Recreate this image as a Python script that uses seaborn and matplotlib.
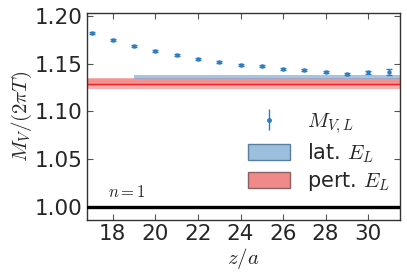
import numpy as np
import pandas as pd
import matplotlib
matplotlib.use("Agg")
import matplotlib.pyplot as plt
import seaborn as sns
from matplotlib.patches import Patch

# data
z = [17, 18, 19, 20, 21, 22, 23, 24, 25, 26, 27, 28, 29, 30, 31]
M = [1.1824, 1.1751, 1.1688, 1.1635, 1.1593, 1.1551, 1.1524, 1.1485,
     1.1475, 1.1443, 1.1436, 1.1415, 1.1394, 1.1412, 1.1418]
M_err = [0.0007, 0.0007, 0.0007, 0.0007, 0.0007, 0.0008, 0.0010, 0.0010,
         0.0010, 0.0010, 0.0010, 0.0013, 0.0015, 0.0015, 0.0030]
lat_start = 19
lat_lo, lat_hi = 1.1339, 1.1384
pert_center = 1.1293
pert_outer = (1.1234, 1.1352)
pert_inner = (1.1264, 1.1336)
xticks = [18, 20, 22, 24, 26, 28, 30]
yticks = [1.00, 1.05, 1.10, 1.15, 1.20]

df = pd.DataFrame({"z": z, "M": M, "err": M_err})

sns.set_style("ticks")
plt.rcParams["font.family"] = ["DejaVu Sans"]
plt.rcParams["mathtext.fontset"] = "cm"

fig = plt.figure(figsize=(4.07, 2.8), dpi=100)
ax = fig.add_axes([0.214, 0.214, 0.769, 0.741])

xl = (16.79, 31.5)
blue = "#2f7cc0"

# perturbative band
ax.fill_between([xl[0], xl[1]], pert_outer[0], pert_outer[1], color="#f26d6d", alpha=0.55, lw=0, zorder=1)
ax.fill_between([xl[0], xl[1]], pert_inner[0], pert_inner[1], color="#f26d6d", alpha=0.45, lw=0, zorder=1)
ax.plot([xl[0], xl[1]], [pert_center, pert_center], color="#e8262b", lw=1.0, zorder=2)
# lattice band
ax.fill_between([lat_start, xl[1]], lat_lo, lat_hi, color="#6a9fd0", alpha=0.6, lw=0, zorder=1.5)

# reference line
ax.axhline(1.0, color="black", lw=2.4, zorder=3)

ax.errorbar(df["z"], df["M"], yerr=df["err"], fmt="none", ecolor=blue,
            elinewidth=1.0, capsize=2, capthick=1.0, zorder=4)
sns.scatterplot(data=df, x="z", y="M", ax=ax, color=blue, s=10, edgecolor=blue,
                linewidth=0, zorder=5, legend=False)

ax.set_xlim(*xl)
ax.set_ylim(0.986, 1.2038)
ax.set_xticks(xticks)
ax.set_yticks(yticks)
ax.set_yticklabels([f"{v:.2f}" for v in yticks])
ax.tick_params(direction="in", top=True, right=True, labelsize=15.5, length=4, width=0.8,
               color="#555555", pad=3)
for s in ax.spines.values():
    s.set_linewidth(1.0)
    s.set_color("#333333")

ax.set_xlabel("$z/a$", fontsize=15, labelpad=1)
ax.set_ylabel("$M_V/(2\\pi T)$", fontsize=15, labelpad=1)
ax.text(17.75, 1.0154, "$n=1$", fontsize=12, va="center")

eb = ax.errorbar([], [], yerr=[], fmt="o", color=blue, ms=2.5, elinewidth=1.0, capsize=3)
h_lat = Patch(facecolor="#9cbfdd", edgecolor="#5a7f9e", lw=1.0)
h_pert = Patch(facecolor="#f08a8a", edgecolor="#8a6060", lw=1.0)
ax.legend([eb, h_lat, h_pert], ["$M_{V,L}$", "lat. $E_L$", "pert. $E_L$"],
          loc="lower right", bbox_to_anchor=(1.0, 0.08), frameon=False, fontsize=15,
          handlelength=2.0, handleheight=0.8, labelspacing=0.25, handletextpad=0.8,
          borderaxespad=0.1)

fig.savefig("out.png", dpi=100)
